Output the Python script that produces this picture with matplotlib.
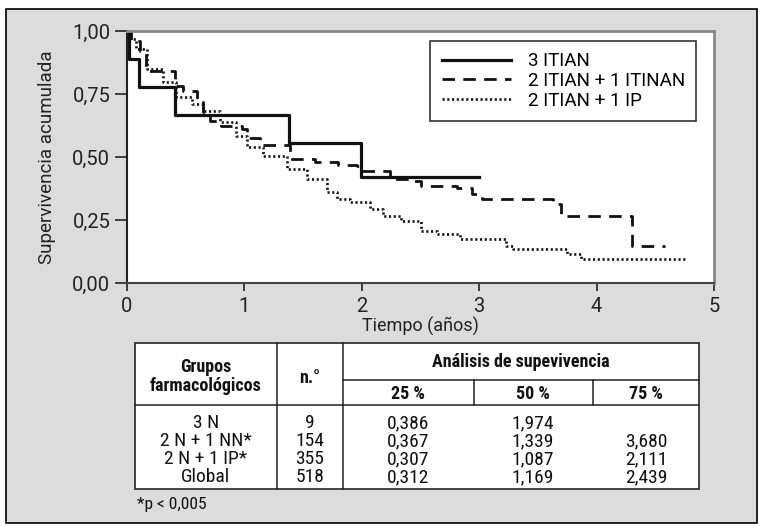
import matplotlib
matplotlib.use("Agg")
import matplotlib.pyplot as plt
from matplotlib import font_manager
from matplotlib.patches import Rectangle
from matplotlib.lines import Line2D

# Data
t_3itian = [0, 0.02, 0.10, 0.41, 1.38, 1.99, 3.0]
s_3itian = [1.0, 0.889, 0.778, 0.667, 0.556, 0.42, 0.42]

t_itinan = [0, 0.03, 0.11, 0.16, 0.41, 0.48, 0.60, 0.65, 0.71, 0.80, 0.98, 1.02, 1.13, 1.39, 1.60, 1.80, 1.96,
            1.99, 2.24, 2.42, 2.50, 2.81, 2.94, 3.02, 3.63, 3.70, 4.30, 4.58]
s_itinan = [1.0, 0.96, 0.92, 0.843, 0.78, 0.76, 0.72, 0.68, 0.644, 0.624, 0.61, 0.574, 0.548, 0.492, 0.48, 0.47, 0.465,
            0.446, 0.413, 0.406, 0.384, 0.376, 0.353, 0.333, 0.313, 0.267, 0.148, 0.148]

t_ip = [0, 0.025, 0.08, 0.17, 0.31, 0.42, 0.55, 0.65, 0.79, 0.93, 1.02, 1.16, 1.36, 1.53, 1.70, 1.79, 1.90,
        2.07, 2.18, 2.33, 2.50, 2.64, 2.84, 3.23, 3.29, 3.75, 3.87, 4.75]
s_ip = [1.0, 0.97, 0.93, 0.85, 0.796, 0.737, 0.71, 0.684, 0.638, 0.585, 0.538, 0.505, 0.452, 0.413, 0.36, 0.333, 0.32,
        0.294, 0.267, 0.247, 0.208, 0.194, 0.175, 0.148, 0.135, 0.115, 0.095, 0.095]

series_labels = ["3 ITIAN", "2 ITIAN + 1 ITINAN", "2 ITIAN + 1 IP"]
x_ticks = [0, 1, 2, 3, 4, 5]
y_ticks = [0, 0.25, 0.5, 0.75, 1.0]

groups = ["3 N", "2 N + 1 NN*", "2 N + 1 IP*", "Global"]
n_vals = ["9", "154", "355", "518"]
q25 = ["0,386", "0,367", "0,307", "0,312"]
q50 = ["1,974", "1,339", "1,087", "1,169"]
q75 = ["", "3,680", "2,111", "2,439"]

# fonts: condensed for the table, regular for the chart
names = {f.name for f in font_manager.fontManager.ttflist}
narrow = "Roboto"
for cand in ["Roboto Condensed", "Liberation Sans Narrow", "Roboto"]:
    if cand in names:
        narrow = cand
        break
plt.rcParams['font.family'] = ["Roboto", "DejaVu Sans"]
tab_font = [narrow, "DejaVu Sans"]

W, H = 765, 529
fig = plt.figure(figsize=(W / 100, H / 100), dpi=100, facecolor="white")


def fx(px):
    return px / W


def fy(py):
    return 1 - py / H


# grey frame
fig.patches.append(Rectangle((fx(6), fy(523)), fx(757) - fx(6), fy(9) - fy(523), transform=fig.transFigure,
                             facecolor="#dcdcdc", edgecolor="black", linewidth=1.2, zorder=-5))

ax = fig.add_axes([fx(127), fy(283), fx(714) - fx(127), fy(31) - fy(283)], zorder=3)
ax.set_facecolor("white")
ax.step(t_3itian, s_3itian, where="post", color="#111111", lw=2.3, label=series_labels[0])
ax.step(t_itinan, s_itinan, where="post", color="#111111", lw=2.0, dashes=(4.5, 3), label=series_labels[1])
ax.step(t_ip, s_ip, where="post", color="#111111", lw=1.9, dashes=(0.8, 1.0), label=series_labels[2])

ax.set_xlim(0, 5)
ax.set_ylim(0, 1)
ax.set_xticks(x_ticks)
ax.set_xticklabels([str(v) for v in x_ticks])
ax.set_yticks(y_ticks)
ax.set_yticklabels([f"{v:.2f}".replace(".", ",") for v in y_ticks])
ax.tick_params(direction="out", width=1.2, labelsize=14.5, colors="#222222")
ax.tick_params(axis="y", length=9, pad=3)
ax.tick_params(axis="x", length=6, pad=4)
for s in ["top", "right"]:
    ax.spines[s].set_color("#888888")
    ax.spines[s].set_linewidth(2)
ax.spines["left"].set_color("#222222")
ax.spines["left"].set_linewidth(1.5)
ax.spines["bottom"].set_color("#444444")
ax.spines["bottom"].set_linewidth(1.5)
ax.set_xlabel("Tiempo (años)", fontsize=13, labelpad=1, color="#222222")
ax.set_ylabel("Supervivencia acumulada", fontsize=13.5, labelpad=12, color="#222222")

leg = ax.legend(loc="upper right", bbox_to_anchor=(0.97, 0.961), fontsize=13.5, frameon=True, fancybox=False,
                edgecolor="black", handlelength=3.7, handletextpad=0.9, borderpad=0.6, labelspacing=0.1,
                borderaxespad=0)
leg.get_frame().set_linewidth(1.2)

# table
tl, tr, tt, tb = 135, 699, 343, 489
fig.patches.append(Rectangle((fx(tl), fy(tb)), fx(tr) - fx(tl), fy(tt) - fy(tb), transform=fig.transFigure,
                             facecolor="white", edgecolor="#333333", linewidth=1.3, zorder=1))


def hline(y, x0, x1):
    fig.lines.append(Line2D([fx(x0), fx(x1)], [fy(y), fy(y)], transform=fig.transFigure, color="#222222",
                            lw=1.1, zorder=2))


def vline(x, y0, y1):
    fig.lines.append(Line2D([fx(x), fx(x)], [fy(y0), fy(y1)], transform=fig.transFigure, color="#222222",
                            lw=1.1, zorder=2))


vline(277, tt, tb)
vline(343, tt, tb)
hline(380, 343, tr)
hline(405, tl, tr)
vline(474, 380, 405)
vline(593, 380, 405)

col_x = [206, 310, 408, 533, 646]
hk = dict(fontsize=13, fontweight="bold", ha="center", va="center", color="#111111", family=tab_font)
fig.text(fx(206), fy(367), "Grupos", **hk)
fig.text(fx(206), fy(386), "farmacológicos", **hk)
fig.text(fx(310), fy(378), "n.°", **hk)
fig.text(fx(521), fy(362), "Análisis de supevivencia", **hk)
fig.text(fx(col_x[2]), fy(394), "25 %", **hk)
fig.text(fx(col_x[3]), fy(394), "50 %", **hk)
fig.text(fx(col_x[4]), fy(394), "75 %", **hk)

row_y = [423, 441, 459, 477]
dk = dict(fontsize=14, ha="center", va="center", color="#111111", family=tab_font)
for i in range(len(groups)):
    for cx, vals in zip(col_x, [groups, n_vals, q25, q50, q75]):
        fig.text(fx(cx), fy(row_y[i]), vals[i], **dk)

fig.text(fx(137), fy(505), "*p < 0,005", fontsize=12.5, ha="left", va="center", color="#111111",
         family=tab_font)

fig.savefig("out.png", dpi=100, facecolor="white")
